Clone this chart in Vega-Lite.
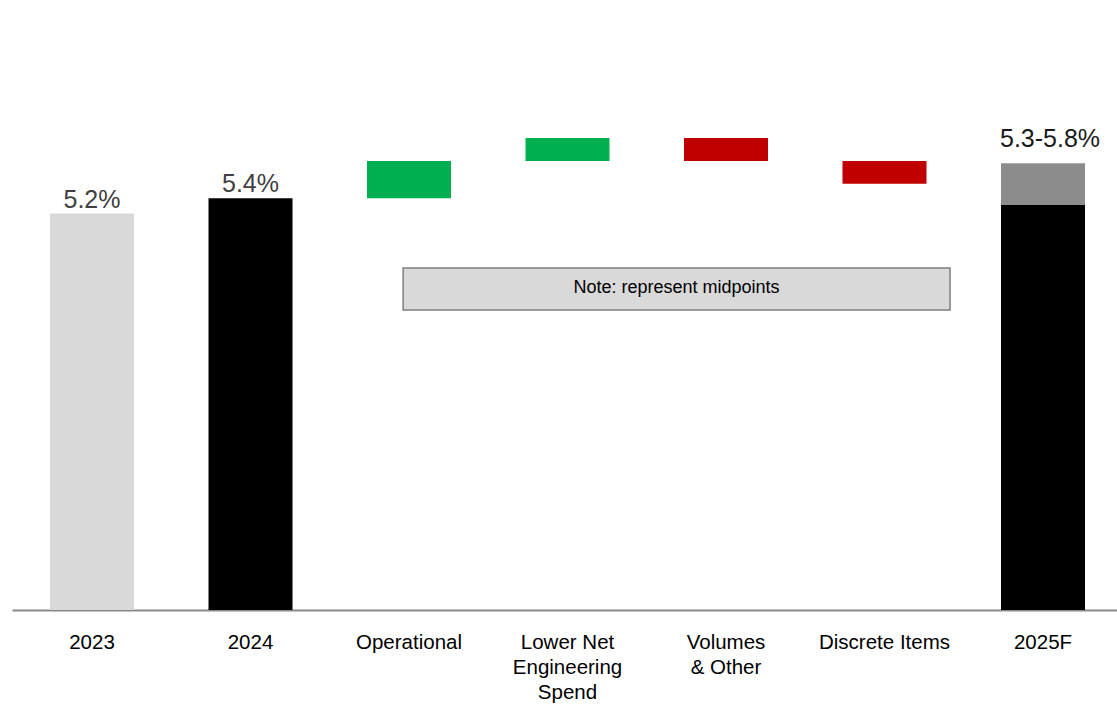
{
  "$schema": "https://vega.github.io/schema/vega-lite/v6.json",
  "width": 1105,
  "height": 610,
  "padding": {"left": 12, "top": 0, "right": 0, "bottom": 0},
  "background": "#ffffff",
  "config": {"view": {"stroke": null}, "font": "Liberation Sans"},
  "datasets": {
    "bars": [
      {"category": "2023", "start": 0, "end": 5.2, "kind": "prior", "label": "5.2%"},
      {"category": "2024", "start": 0, "end": 5.4, "kind": "base", "label": "5.4%"},
      {"category": "Operational", "start": 5.4, "end": 5.89, "kind": "increase"},
      {"category": "Lower Net Engineering Spend", "start": 5.89, "end": 6.19, "kind": "increase"},
      {"category": "Volumes & Other", "start": 6.19, "end": 5.89, "kind": "decrease"},
      {"category": "Discrete Items", "start": 5.89, "end": 5.59, "kind": "decrease"},
      {"category": "2025F", "start": 0, "end": 5.31, "kind": "base"},
      {"category": "2025F", "start": 5.31, "end": 5.86, "kind": "range", "label": "5.3-5.8%"}
    ],
    "note": [
      {"category": "Operational", "category2": "Discrete Items", "anchor": "Volumes & Other", "top": 4.485, "bottom": 3.934, "mid": 4.22, "text": "Note: represent midpoints"}
    ]
  },
  "layer": [
    {
      "data": {"name": "bars"},
      "mark": {"type": "bar"},
      "encoding": {
        "x": {
          "field": "category", "type": "nominal", "title": null,
          "scale": {"domain": ["2023", "2024", "Operational", "Lower Net Engineering Spend", "Volumes & Other", "Discrete Items", "2025F"], "paddingInner": 0.47, "paddingOuter": 0.2208, "align": 0.543},
          "axis": {
            "title": null, "ticks": false, "tickSize": 0, "grid": false,
            "domainColor": "#898989", "domainWidth": 2,
            "labelFont": "Liberation Sans", "labelFontSize": 20.5, "labelColor": "#000000",
            "labelPadding": 22, "labelLineHeight": 25, "labelAngle": 0,
            "labelOverlap": false, "labelBound": false, "labelLimit": 0,
            "labelExpr": "datum.value == 'Lower Net Engineering Spend' ? ['Lower Net', 'Engineering', 'Spend'] : datum.value == 'Volumes & Other' ? ['Volumes', '& Other'] : datum.label"
          }
        },
        "y": {"field": "start", "type": "quantitative", "scale": {"domain": [0, 8], "nice": false}, "axis": null},
        "y2": {"field": "end"},
        "color": {
          "field": "kind", "type": "nominal", "legend": null,
          "scale": {"domain": ["prior", "base", "increase", "decrease", "range"], "range": ["#d9d9d9", "#000000", "#00b050", "#c00000", "#8c8c8c"]}
        }
      }
    },
    {
      "data": {"name": "bars"},
      "transform": [{"filter": "datum.kind == 'prior' || (datum.kind == 'base' && datum.label != null)"}],
      "mark": {"type": "text", "fontSize": 25, "color": "#404040", "baseline": "alphabetic", "align": "center", "dy": -6, "font": "Liberation Sans"},
      "encoding": {
        "x": {"field": "category", "type": "nominal", "title": null},
        "y": {"field": "end", "type": "quantitative"},
        "text": {"field": "label"}
      }
    },
    {
      "data": {"name": "bars"},
      "transform": [{"filter": "datum.kind == 'range'"}],
      "mark": {"type": "text", "fontSize": 25, "color": "#1a1a1a", "baseline": "alphabetic", "align": "center", "dy": -16, "dx": 7, "font": "Liberation Sans"},
      "encoding": {
        "x": {"field": "category", "type": "nominal", "title": null},
        "y": {"field": "end", "type": "quantitative"},
        "text": {"field": "label"}
      }
    },
    {
      "data": {"name": "note"},
      "mark": {"type": "rect", "fill": "#d9d9d9", "stroke": "#7f7f7f", "strokeWidth": 1.5},
      "encoding": {
        "x": {"field": "category", "type": "nominal", "title": null, "bandPosition": 0.43},
        "x2": {"field": "category2", "bandPosition": 1.28},
        "y": {"field": "top", "type": "quantitative"},
        "y2": {"field": "bottom"}
      }
    },
    {
      "data": {"name": "note"},
      "mark": {"type": "text", "fontSize": 18, "color": "#000000", "baseline": "middle", "align": "center", "font": "Liberation Sans"},
      "encoding": {
        "x": {"field": "anchor", "type": "nominal", "title": null, "bandPosition": -0.09},
        "y": {"field": "mid", "type": "quantitative"},
        "text": {"field": "text"}
      }
    }
  ]
}
